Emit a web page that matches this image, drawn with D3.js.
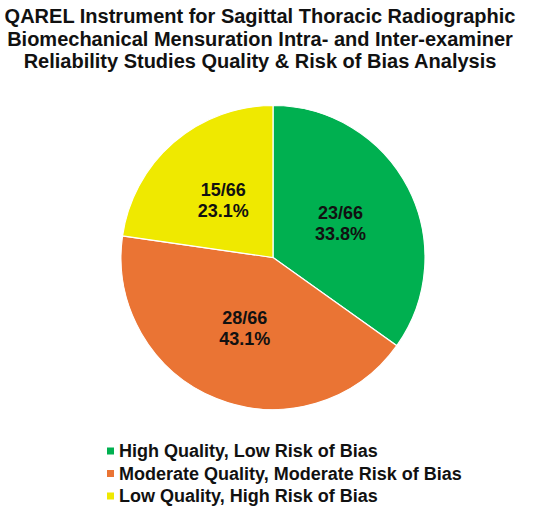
<!DOCTYPE html>
<html>
<head>
<meta charset="utf-8">
<script src="https://cdn.jsdelivr.net/npm/d3@7"></script>
<style>
  body { margin: 0; background: #fff; }
  text { font-family: "Liberation Sans", Arial, sans-serif; font-weight: bold; fill: #111; }
</style>
</head>
<body>
<svg id="chart" width="550" height="510"></svg>
<script>
// Datos del gráfico
const categorias = [
    'High Quality, Low Risk of Bias',
    'Moderate Quality, Moderate Risk of Bias',
    'Low Quality, High Risk of Bias'
];
const estudios = [23, 28, 15];
const etiquetas = [['23/66', '33.8%'], ['28/66', '43.1%'], ['15/66', '23.1%']];
const colores = ['#00b050', '#ea7434', '#efe900'];
const titulo = [
    'QAREL Instrument for Sagittal Thoracic Radiographic',
    'Biomechanical Mensuration Intra- and Inter-examiner',
    'Reliability Studies Quality & Risk of Bias Analysis'
];

const svg = d3.select('#chart');

// Título
svg.append('g')
    .selectAll('text')
    .data(titulo)
    .enter()
    .append('text')
    .attr('x', 260)
    .attr('y', (d, i) => 23 + i * 22.5)
    .attr('text-anchor', 'middle')
    .style('font-size', '20px')
    .text(d => d);

// Pastel
const radio = 152;
const color = d3.scaleOrdinal().domain(categorias).range(colores);
const pie = d3.pie().sort(null).value(d => d.valor);
const datos = categorias.map((c, i) => ({ categoria: c, valor: estudios[i], etiqueta: etiquetas[i] }));
const arcos = pie(datos);
const arco = d3.arc().innerRadius(0).outerRadius(radio);
const arcoEtiqueta = d3.arc().innerRadius(radio * 0.5).outerRadius(radio * 0.5);

const g = svg.append('g').attr('transform', 'translate(273,257.5)');

g.selectAll('path')
    .data(arcos)
    .enter()
    .append('path')
    .attr('d', arco)
    .attr('fill', d => color(d.data.categoria))
    .attr('stroke', '#fff')
    .attr('stroke-width', 1.2);

const etq = g.selectAll('.etq')
    .data(arcos)
    .enter()
    .append('text')
    .attr('class', 'etq')
    .attr('text-anchor', 'middle')
    .attr('transform', d => `translate(${arcoEtiqueta.centroid(d)})`)
    .style('font-size', '18px');

etq.selectAll('tspan')
    .data(d => d.data.etiqueta)
    .enter()
    .append('tspan')
    .attr('x', 0)
    .attr('y', (d, i) => i === 0 ? -4 : 17)
    .text(d => d);

// Leyenda
const leyenda = svg.append('g').attr('transform', 'translate(107,451)');
const item = leyenda.selectAll('g')
    .data(categorias)
    .enter()
    .append('g')
    .attr('transform', (d, i) => `translate(0,${i * 22.5})`);

item.append('rect')
    .attr('x', 0)
    .attr('y', -3.5)
    .attr('width', 7)
    .attr('height', 7)
    .attr('fill', d => color(d));

item.append('text')
    .attr('x', 12)
    .attr('y', 6.4)
    .style('font-size', '18px')
    .text(d => d);
</script>
</body>
</html>
